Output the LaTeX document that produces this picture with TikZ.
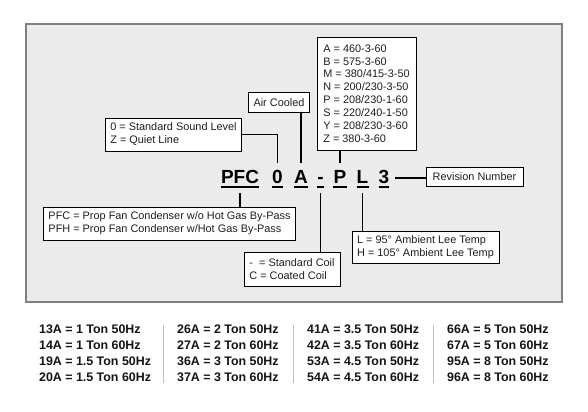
\documentclass[tikz,border=0pt]{standalone}
\usepackage{fontspec}
\setmainfont{Liberation Sans}
\begin{document}
\begin{tikzpicture}[x=1bp,y=-1bp,
  box/.style={draw=black, line width=0.9bp, fill=white, inner xsep=5bp, inner ysep=3bp, align=left, font=\fontsize{10.9bp}{12.9bp}\selectfont, text=black!88},
  code/.style={font=\fontsize{19bp}{19bp}\selectfont\bfseries, inner xsep=0pt, inner ysep=6bp, text height=14bp, text depth=4bp, anchor=base},
  link/.style={line width=1.3bp, draw=black},
  ul/.style={line width=1.3bp, draw=black},
  row/.style={font=\fontsize{12.4bp}{16bp}\selectfont\bfseries, anchor=base west, inner sep=0pt, text=black!92},
  sep/.style={draw=black!25, line width=0.8bp}]
\useasboundingbox (0,0) rectangle (588,411);
\fill[white] (0,0) rectangle (588,411);
\draw[draw=black!50, fill=black!8, line width=1.2bp] (26,24) rectangle (562,302);

% code letters
\node[code] (pfc) at (240,183) {PFC};
\node[code] (zero) at (277.5,183) {0};
\node[code] (a) at (301,183) {A};
\node[code] (dash) at (320.5,183) {-};
\node[code] (p) at (340,183) {P};
\node[code] (l) at (362.5,183) {L};
\node[code] (three) at (384,183) {3};
\foreach \n in {pfc,zero,a,dash,p,l,three}
  \draw[ul] ([yshift=-4bp]\n.base west) -- ([yshift=-4bp]\n.base east);

% boxes
\node[box, minimum width=135bp, minimum height=33bp] (sound) at (173.5,134.5) {0 = Standard Sound Level\\Z = Quiet Line};
\node[box, minimum width=59bp, minimum height=20bp] (air) at (279,102.5) {Air Cooled};
\node[box, minimum width=99bp, minimum height=113bp] (volt) at (366.5,93.5) {A = 460-3-60\\B = 575-3-60\\M = 380/415-3-50\\N = 200/230-3-50\\P = 208/230-1-60\\S = 220/240-1-50\\Y = 208/230-3-60\\Z = 380-3-60};
\node[box, minimum width=97bp, minimum height=19bp] (rev) at (474.5,176.5) {Revision Number};
\node[box, minimum width=251bp, minimum height=33bp] (pfcbox) at (169.5,223.5) {PFC = Prop Fan Condenser w/o Hot Gas By-Pass\\PFH = Prop Fan Condenser w/Hot Gas By-Pass};
\node[box, minimum width=96bp, minimum height=34bp] (coil) at (292,269) {-\ \ = Standard Coil\\C = Coated Coil};
\node[box, minimum width=147bp, minimum height=32bp] (amb) at (425.5,247) {L = 95° Ambient Lee Temp\\H = 105° Ambient Lee Temp};

% connectors
\draw[link] (sound.east) -| (zero.north);
\draw[link] (a.north) -- (a.north |- air.south);
\draw[link] (p.north) -- (p.north |- volt.south);
\draw[link] (pfc.south) -- (pfc.south |- pfcbox.north);
\draw[link] (dash.south) -- (dash.south |- coil.north);
\draw[link] (l.south) -- (l.south |- amb.north);
\draw[link, shorten <=6bp] (three.east) -- (three.east -| rev.west);

% table
\node[row] (r11) at (39,333) {13A = 1 Ton 50Hz};
\node[row] (r12) at (39,349) {14A = 1 Ton 60Hz};
\node[row] (r13) at (39,365) {19A = 1.5 Ton 50Hz};
\node[row] (r14) at (39,381) {20A = 1.5 Ton 60Hz};
\node[row] (r21) at (177,333) {26A = 2 Ton 50Hz};
\node[row] (r22) at (177,349) {27A = 2 Ton 60Hz};
\node[row] (r23) at (177,365) {36A = 3 Ton 50Hz};
\node[row] (r24) at (177,381) {37A = 3 Ton 60Hz};
\node[row] (r31) at (307,333) {41A = 3.5 Ton 50Hz};
\node[row] (r32) at (307,349) {42A = 3.5 Ton 60Hz};
\node[row] (r33) at (307,365) {53A = 4.5 Ton 50Hz};
\node[row] (r34) at (307,381) {54A = 4.5 Ton 60Hz};
\node[row] (r41) at (447,333) {66A = 5 Ton 50Hz};
\node[row] (r42) at (447,349) {67A = 5 Ton 60Hz};
\node[row] (r43) at (447,365) {95A = 8 Ton 50Hz};
\node[row] (r44) at (447,381) {96A = 8 Ton 60Hz};
\draw[sep] (163,325) -- (163,383);
\draw[sep] (293,325) -- (293,383);
\draw[sep] (433,325) -- (433,383);
\end{tikzpicture}
\end{document}
